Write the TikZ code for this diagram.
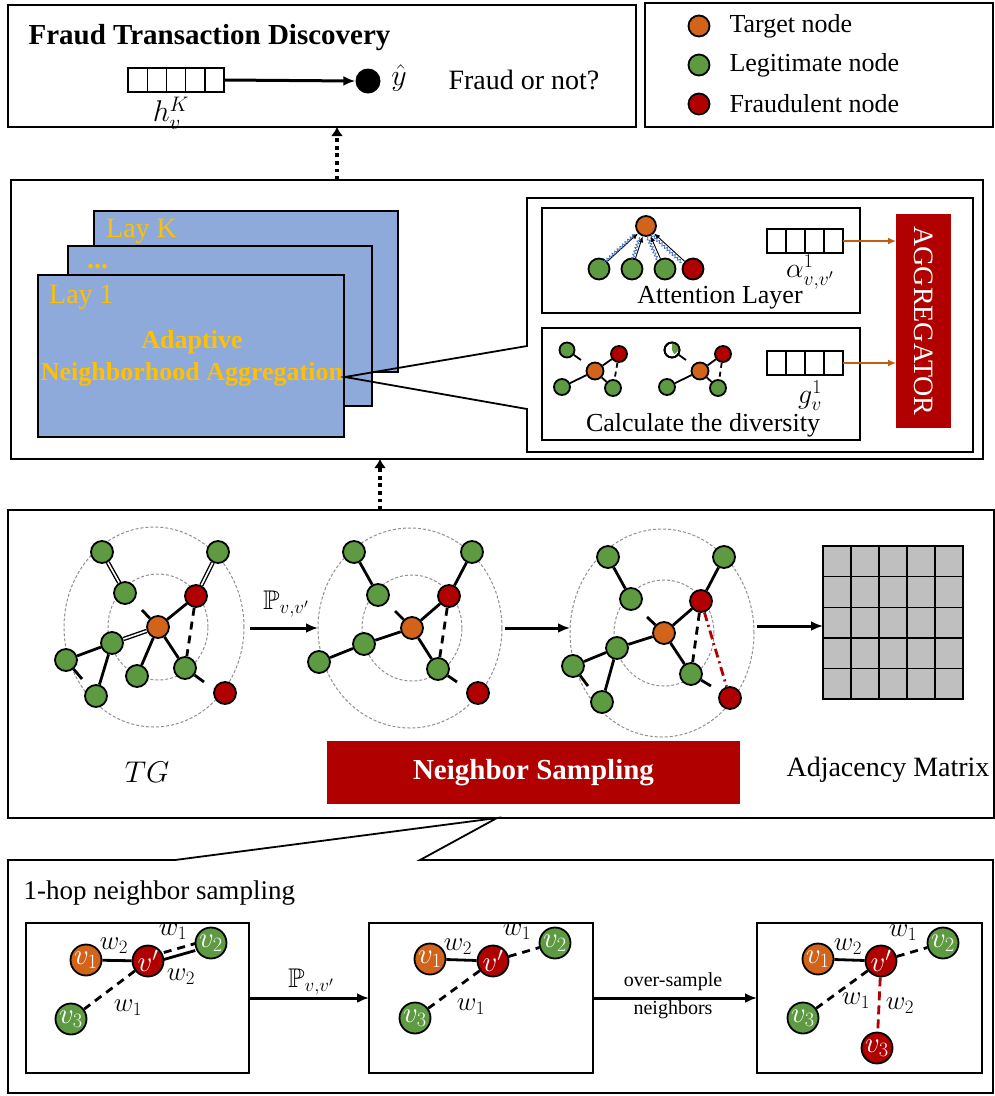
\RequirePackage{fix-cm}
\documentclass[tikz,border=0pt]{standalone}
\usepackage{amsmath,amssymb}
\usepackage{fontspec}
\setmainfont{Liberation Serif}
\usetikzlibrary{arrows.meta,decorations.pathmorphing,calc}
\definecolor{ornode}{HTML}{D2631A}
\definecolor{grnode}{HTML}{5E9A41}
\definecolor{rdnode}{HTML}{B00000}
\definecolor{layblue}{HTML}{8EAADB}
\definecolor{goldtxt}{HTML}{FFC000}
\definecolor{mgray}{HTML}{BFBFBF}
\definecolor{aggarrow}{HTML}{C55A11}
\definecolor{wavecol}{HTML}{4472C4}
\definecolor{ringgray}{HTML}{8F8F8F}
\newcommand{\fsz}[1]{\fontsize{#1}{#1}\selectfont}
\pgfdeclarelayer{bg}
\pgfsetlayers{bg,main}
\begin{document}
\begin{tikzpicture}[x=1pt,y=-1pt,
  frame/.style={draw,line width=1.8pt,inner sep=0pt,outer sep=0pt,anchor=north west},
  vecb/.style={draw,line width=1.8pt,inner sep=0pt,outer sep=0pt},
  gnode/.style={circle,draw,line width=1.8pt,inner sep=0pt,fill=grnode,minimum size=#1},
  gnode/.default=22pt,
  rnode/.style={circle,draw,line width=1.8pt,inner sep=0pt,fill=rdnode,minimum size=#1},
  rnode/.default=22pt,
  onode/.style={circle,draw,line width=1.8pt,inner sep=0pt,fill=ornode,minimum size=#1},
  onode/.default=22pt,
  vnode/.style={circle,draw,line width=1.8pt,inner sep=0pt,minimum size=31pt,text=white,font=\fsz{29}},
  lnk/.style={line width=2.8pt},
  dlnk/.style={line width=2.8pt,dash pattern=on 8pt off 6pt},
  dbl/.style={line width=1.4pt,double,double distance=1.6pt},
  slnk/.style={line width=1.8pt},
  ring/.style={draw=ringgray,line width=1pt,dash pattern=on 3pt off 2pt},
  arr/.style={line width=3pt,-{Latex[length=12pt,width=10pt]}},
  oarr/.style={draw=aggarrow,line width=1.8pt,-{Latex[length=8pt,width=7pt]}},
  tarr/.style={line width=0.9pt,-{Latex[length=6pt,width=5pt]}},
  snk/.style={draw=wavecol,line width=0.8pt,decorate,decoration={snake,amplitude=1.4pt,segment length=3.5pt}},
  dotarr/.style={line width=3.8pt,dash pattern=on 3.8pt off 3.8pt,-{Latex[length=9pt,width=12pt]}},
  lbl/.style={font=\fsz{26}},
  goldl/.style={text=goldtxt,font=\fsz{28}},
  wl/.style={font=\fsz{27},inner sep=0pt},
  ml/.style={inner sep=0pt}
]
\useasboundingbox (0,0) rectangle (995,1096);

% ===== Top box =====
\node[frame,minimum width=628pt,minimum height=122pt] (top) at (8,5) {};
\node[anchor=west,font=\fsz{29}\bfseries] (title) at (25,38) {Fraud Transaction Discovery};
\node[vecb,minimum width=96pt,minimum height=24pt] (hv) at (176,80) {};
\foreach \i in {1,...,4} \draw[line width=1.4pt] ($(hv.north west)+(19.2*\i,0)$) -- ($(hv.south west)+(19.2*\i,0)$);
\node[circle,fill=black,minimum size=25pt,inner sep=0pt] (yd) at (368,81) {};
\draw[arr] (hv.east) -- (yd.west);
\node[ml] (yh) at (399,78) {\fsz{30}$\hat{y}$};
\node[anchor=west,font=\fsz{28}] (fon) at (445,80) {Fraud or not?};
\node[ml] (hk) at (171,113) {\fsz{30}$h_v^K$};

% ===== Legend =====
\node[frame,minimum width=348pt,minimum height=124pt] (leg) at (645,3) {};
\node[onode=21pt] (lo) at (699,26) {};
\node[gnode=21pt] (lg) at (699,65) {};
\node[rnode=21pt] (lr) at (699,104) {};
\node[anchor=west,lbl] (lot) at (726,26) {Target node};
\node[anchor=west,lbl] (lgt) at (726,65) {Legitimate node};
\node[anchor=west,lbl] (lrt) at (726,104) {Fraudulent node};

% ===== Middle box =====
\node[frame,minimum width=972pt,minimum height=279pt] (mid) at (11,180) {};
\draw[dotarr] (mid.north -| 337,0) -- (top.south -| 337,0);

\node[frame,fill=layblue,line width=1.4pt,minimum width=304pt,minimum height=161pt] (layK) at (94,211) {};
\node[frame,fill=layblue,line width=1.4pt,minimum width=304pt,minimum height=160pt] (lay2) at (68,246) {};
\node[frame,fill=layblue,line width=1.4pt,minimum width=306pt,minimum height=162pt] (lay1) at (38,275) {};
\node[anchor=base west,goldl,inner sep=0pt] (tK) at (106,237) {Lay K};
\node[anchor=base west,goldl,inner sep=0pt,font=\fsz{28}\bfseries] (t2) at (87,268) {...};
\node[anchor=base west,goldl,inner sep=0pt] (t1) at (49,303) {Lay 1};
\node[anchor=base,text=goldtxt,font=\fsz{26}\bfseries,inner sep=0pt] (ad1) at (192,348) {Adaptive};
\node[anchor=base,text=goldtxt,font=\fsz{26}\bfseries,inner sep=0pt] (ad2) at (192,380) {Neighborhood Aggregation};

% container with callout
\coordinate (cp) at (345,377);
\draw[line width=1.8pt] (527,346) -- (527,198) -- (973,198) -- (973,452) -- (527,452) -- (527,409) -- (cp) -- cycle;

\node[frame,minimum width=318pt,minimum height=105pt] (att) at (542,208) {};
\node[frame,minimum width=318pt,minimum height=112pt] (div) at (542,328) {};
\node[frame,draw=none,fill=rdnode,minimum width=55pt,minimum height=214pt] (agg) at (896,214) {};
\node[rotate=-90,text=white,font=\fsz{28}] (aggt) at (agg.center) {AGGREGATOR};

\node[vecb,minimum width=76pt,minimum height=24pt] (av) at (805,241) {};
\foreach \i in {1,...,3} \draw[line width=1.4pt] ($(av.north west)+(19*\i,0)$) -- ($(av.south west)+(19*\i,0)$);
\node[vecb,minimum width=76pt,minimum height=24pt] (gv) at (805,363) {};
\foreach \i in {1,...,3} \draw[line width=1.4pt] ($(gv.north west)+(19*\i,0)$) -- ($(gv.south west)+(19*\i,0)$);
\draw[oarr] (av.east) -- (av.east -| agg.west);
\draw[oarr] (gv.east) -- (gv.east -| agg.west);
\node[ml] (al) at (810,272) {\fsz{28}$\alpha^1_{v,v'}$};
\node[ml] (gl) at (810,396) {\fsz{28}$g^1_v$};
\node[lbl] (attt) at (720,298) {Attention Layer};
\node[lbl] (divt) at (703,425) {Calculate the diversity};

% attention mini graph
\node[onode=20pt] (at0) at (646,226) {};
\node[gnode=21pt] (at1) at (599,269) {};
\node[gnode=21pt] (at2) at (632,269) {};
\node[gnode=21pt] (at3) at (665,269) {};
\node[rnode=21pt] (at4) at (693,269) {};
\foreach \n in {at1,at2,at3,at4} {
  \draw[tarr] (\n) -- (at0);
  \draw[snk,transform canvas={xshift=-3pt,yshift=-1pt}] (\n) -- (at0);
}

% diversity mini graphs
\node[gnode=15pt] (dTL) at (567,350) {};
\node[rnode=16pt] (dR) at (619,354) {};
\node[onode=17pt] (dO) at (595,371) {};
\node[gnode=16pt] (dL) at (562,387) {};
\node[gnode=16pt] (dRb) at (613,388) {};
\coordinate (dTs) at (581,360);
\node[circle,draw,line width=1.8pt,inner sep=0pt,fill=white,minimum size=15pt] (eTL) at (672,350) {};
\fill[grnode] (eTL.center) -- (eTL.north) arc[start angle=90,end angle=-70,radius=6.5pt] -- cycle;
\node[circle,draw,line width=1.8pt,inner sep=0pt,minimum size=15pt] (eTLb) at (672,350) {};
\node[rnode=16pt] (eR) at (723,354) {};
\node[onode=17pt] (eO) at (700,371) {};
\node[gnode=16pt] (eL) at (667,387) {};
\node[gnode=16pt] (eRb) at (718,388) {};
\coordinate (eTs) at (686,360);
\begin{pgfonlayer}{bg}
\draw[slnk] (dO) -- (dR); \draw[slnk] (dO) -- (dL); \draw[slnk] (dO) -- (dRb);
\draw[slnk,dash pattern=on 5pt off 4pt] (dR) -- (dRb);
\draw[slnk] (dTL) -- (dTs);
\draw[slnk] (eO) -- (eR); \draw[slnk] (eO) -- (eL); \draw[slnk] (eO) -- (eRb);
\draw[slnk,dash pattern=on 5pt off 4pt] (eR) -- (eRb);
\draw[slnk] (eTL) -- (eTs);
\end{pgfonlayer}

% ===== Sampling box =====
\node[frame,minimum width=986pt,minimum height=308pt] (samp) at (8,510) {};
\draw[dotarr] (samp.north -| 380,0) -- (mid.south -| 380,0);

% graph 1
\node[gnode] (aG1) at (102,552) {};
\node[gnode] (aG2) at (218,552) {};
\node[gnode] (aG3) at (125,593) {};
\node[rnode] (aR1) at (196,596) {};
\node[onode] (aO) at (158,627) {};
\node[gnode] (aG4) at (112,643) {};
\node[gnode] (aG5) at (66,660) {};
\node[gnode] (aG6) at (137,676) {};
\node[gnode] (aG7) at (185,668) {};
\node[gnode] (aG8) at (96,696) {};
\node[rnode] (aR2) at (225,693) {};
\coordinate (aS1) at (82,679);
\coordinate (aS2) at (142,610);
\coordinate (aS3) at (204,682);
% graph 2
\node[gnode] (bG1) at (354,552) {};
\node[gnode] (bG2) at (472,552) {};
\node[gnode] (bG3) at (378,595) {};
\node[rnode] (bR1) at (449,596) {};
\node[onode] (bO) at (412,628) {};
\node[gnode] (bG4) at (364,644) {};
\node[gnode] (bG5) at (319,662) {};
\node[gnode] (bG7) at (438,669) {};
\node[rnode] (bR2) at (478,693) {};
\coordinate (bS2) at (395,611);
\coordinate (bS3) at (457,682);
% graph 3
\node[gnode] (cG1) at (608,557) {};
\node[gnode] (cG2) at (724,557) {};
\node[gnode] (cG3) at (631,599) {};
\node[rnode] (cR1) at (701,601) {};
\node[onode] (cO) at (664,633) {};
\node[gnode] (cG4) at (617,648) {};
\node[gnode] (cG5) at (573,666) {};
\node[gnode] (cG8) at (602,702) {};
\node[gnode] (cG7) at (691,674) {};
\node[rnode] (cR2) at (730,698) {};
\coordinate (cS1) at (588,686);
\coordinate (cS2) at (647,617);
\coordinate (cS3) at (711,686);

\begin{pgfonlayer}{bg}
\draw[ring] (aO) ellipse[x radius=50pt,y radius=53pt];
\draw[ring] ($(aO)+(-4,0)$) ellipse[x radius=90pt,y radius=100pt];
\draw[ring] (bO) ellipse[x radius=50pt,y radius=53pt];
\draw[ring] ($(bO)+(-2,0)$) ellipse[x radius=92pt,y radius=100pt];
\draw[ring] (cO) ellipse[x radius=50pt,y radius=53pt];
\draw[ring] ($(cO)+(-2,0)$) ellipse[x radius=92pt,y radius=104pt];
% graph 1 edges
\draw[dbl] (aG1) -- (aG3);
\draw[dbl] (aG2) -- (aR1);
\draw[lnk] (aR1) -- (aO);
\draw[dbl] (aO) -- (aG4);
\draw[lnk] (aG4) -- (aG5);
\draw[lnk] (aG4) -- (aG8);
\draw[lnk] (aG5) -- (aS1);
\draw[lnk] (aO) -- (aG6);
\draw[lnk] (aO) -- (aG7);
\draw[dlnk] (aR1) -- (aG7);
\draw[lnk] (aS2) -- (aO);
\draw[lnk] (aG7) -- (aS3);
% graph 2 edges
\draw[lnk] (bG1) -- (bG3);
\draw[lnk] (bG2) -- (bR1);
\draw[lnk] (bR1) -- (bO);
\draw[lnk] (bO) -- (bG4);
\draw[lnk] (bG4) -- (bG5);
\draw[lnk] (bO) -- (bG7);
\draw[dlnk] (bR1) -- (bG7);
\draw[lnk] (bS2) -- (bO);
\draw[lnk] (bG7) -- (bS3);
% graph 3 edges
\draw[lnk] (cG1) -- (cG3);
\draw[lnk] (cG2) -- (cR1);
\draw[lnk] (cR1) -- (cO);
\draw[lnk] (cO) -- (cG4);
\draw[lnk] (cG4) -- (cG5);
\draw[lnk] (cG4) -- (cG8);
\draw[lnk] (cG5) -- (cS1);
\draw[lnk] (cO) -- (cG7);
\draw[dlnk] (cR1) -- (cG7);
\draw[lnk] (cS2) -- (cO);
\draw[lnk] (cG7) -- (cS3);
\draw[line width=2.8pt,draw=rdnode,dash pattern=on 9pt off 4pt on 2pt off 4pt] (cR1) -- (cR2);
\end{pgfonlayer}

\coordinate (g1r) at (250,628);
\coordinate (g2l) at (318,628);
\coordinate (g2r) at (505,628);
\coordinate (g3l) at (570,628);
\coordinate (g3r) at (757,626);
\draw[arr] (g1r) -- (g2l);
\node[ml] (pr1) at (286,604) {\fsz{27}$\mathbb{P}_{v,v'}$};
\draw[arr] (g2r) -- (g3l);

\node[frame,fill=mgray,minimum width=140pt,minimum height=153pt] (mat) at (823,546) {};
\foreach \i in {1,...,4} {
  \draw[line width=1.4pt] ($(mat.north west)+(28*\i,0)$) -- ($(mat.south west)+(28*\i,0)$);
  \draw[line width=1.4pt] ($(mat.north west)+(0,30.6*\i)$) -- ($(mat.north east)+(0,30.6*\i)$);
}
\draw[arr] (g3r) -- (g3r -| mat.west);

\node[ml] (tg) at (147,772) {\fsz{30}$TG$};
\node[frame,draw=none,fill=rdnode,minimum width=413pt,minimum height=63pt] (nsb) at (327,741) {};
\node[text=white,font=\fsz{29}\bfseries] (nst) at (nsb.center) {Neighbor Sampling};
\node[font=\fsz{28}] (adj) at (888,770) {Adjacency Matrix};

% ===== Bottom callout box =====
\coordinate (nsp) at (497,818);
\draw[line width=1.8pt] (nsp) -- (175,860) -- (8,860) -- (8,1093) -- (993,1093) -- (993,860) -- (420,860) -- cycle;
\node[anchor=west,font=\fsz{27}] (hop) at (20,893) {1-hop neighbor sampling};

\node[frame,minimum width=223pt,minimum height=150pt] (hA) at (26,923) {};
\node[frame,minimum width=224pt,minimum height=150pt] (hB) at (369,923) {};
\node[frame,minimum width=225pt,minimum height=150pt] (hC) at (757,923) {};

% box A
\node[vnode,fill=ornode] (Av1) at (86,960) {$v_1$};
\node[vnode,fill=rdnode] (Avp) at (148,961) {$v'$};
\node[vnode,fill=grnode] (Av2) at (211,943) {$v_2$};
\node[vnode,fill=grnode] (Av3) at (71,1019) {$v_3$};
% box B
\node[vnode,fill=ornode] (Bv1) at (430,959) {$v_1$};
\node[vnode,fill=rdnode] (Bvp) at (493,961) {$v'$};
\node[vnode,fill=grnode] (Bv2) at (555,943) {$v_2$};
\node[vnode,fill=grnode] (Bv3) at (415,1018) {$v_3$};
% box C
\node[vnode,fill=ornode] (Cv1) at (818,959) {$v_1$};
\node[vnode,fill=rdnode] (Cvp) at (881,961) {$v'$};
\node[vnode,fill=grnode] (Cv2) at (943,943) {$v_2$};
\node[vnode,fill=grnode] (Cv3) at (803,1018) {$v_3$};
\node[vnode,fill=rdnode] (Cv3r) at (877,1048) {$v_3$};

\begin{pgfonlayer}{bg}
\draw[lnk] (Av1) -- (Avp);
\draw[dlnk,transform canvas={yshift=4pt}] (Avp) -- (Av2);
\draw[lnk,transform canvas={yshift=-3pt}] (Avp) -- (Av2);
\draw[dlnk] (Avp) -- (Av3);
\draw[lnk] (Bv1) -- (Bvp);
\draw[dlnk] (Bvp) -- (Bv2);
\draw[dlnk] (Bvp) -- (Bv3);
\draw[lnk] (Cv1) -- (Cvp);
\draw[dlnk] (Cvp) -- (Cv2);
\draw[dlnk] (Cvp) -- (Cv3);
\draw[line width=2.8pt,draw=rdnode,dash pattern=on 9pt off 5pt] (Cvp) -- (Cv3r);
\end{pgfonlayer}

\node[wl] (wA1) at (114,946) {$w_2$};
\node[wl] (wA2) at (173,932) {$w_1$};
\node[wl] (wA3) at (181,977) {$w_2$};
\node[wl] (wA4) at (128,1008) {$w_1$};
\node[wl] (wB1) at (458,947) {$w_2$};
\node[wl] (wB2) at (517,932) {$w_1$};
\node[wl] (wB3) at (471,1007) {$w_1$};
\node[wl] (wC1) at (848,947) {$w_2$};
\node[wl] (wC2) at (903,933) {$w_1$};
\node[wl] (wC3) at (856,1001) {$w_1$};
\node[wl] (wC4) at (900,1006) {$w_2$};

\draw[arr] (hA.east) -- (hB.west);
\node[ml] (pr2) at (311,982) {\fsz{27}$\mathbb{P}_{v,v'}$};
\draw[arr] (hB.east) -- (hC.west);
\node[font=\fsz{20}] (os1) at (673,982) {over-sample};
\node[font=\fsz{20}] (os2) at (673,1010) {neighbors};
\end{tikzpicture}
\end{document}
